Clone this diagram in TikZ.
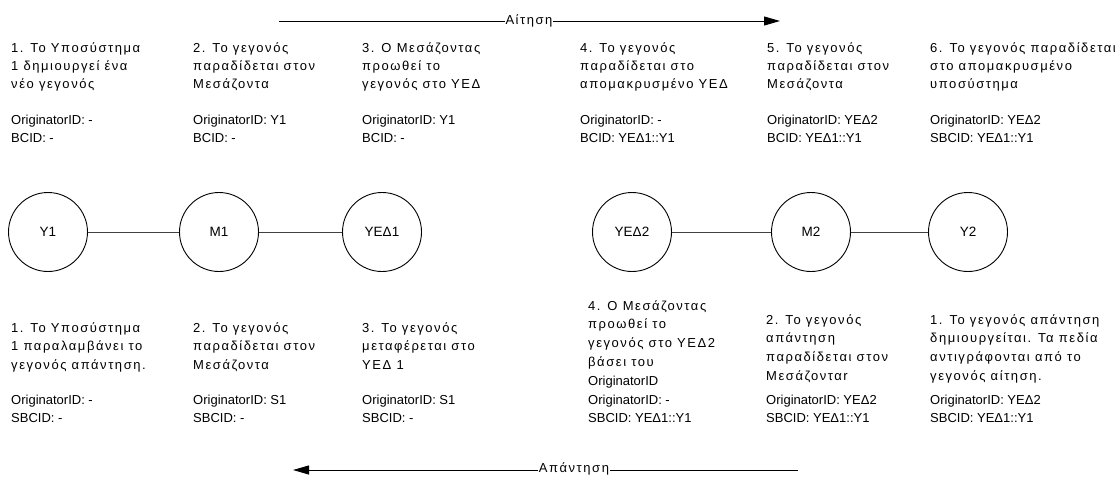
\documentclass[tikz,border=0pt]{standalone}
\usepackage{fontspec}
\setmainfont{Liberation Sans}
\newfontfamily\grfont{Liberation Sans}[LetterSpace=12]
\usetikzlibrary{arrows.meta}
\newcommand\txtrows[1]{\begin{tabular}[t]{@{}l@{}}#1\end{tabular}}
\tikzset{
  station/.style={draw=black, line width=0.9pt, circle, minimum size=79pt, inner sep=0pt,
                  font=\fontsize{13.5}{16}\selectfont},
  link/.style={draw=black!75, line width=0.9pt},
  desc/.style={anchor=base west, inner sep=0pt, font=\grfont\fontsize{13}{18.3}\selectfont},
  descb/.style={desc, font=\grfont\fontsize{13}{18.8}\selectfont},
  ids/.style={anchor=base west, inner sep=0pt, font=\fontsize{13}{18}\selectfont},
  flow/.style={draw=black, line width=1pt, -{Triangle[length=16pt,width=9pt]}},
  flowlabel/.style={fill=white, inner sep=1pt, font=\grfont\fontsize{13}{16}\selectfont}
}
\begin{document}
\begin{tikzpicture}[x=1pt, y=-1pt]
\useasboundingbox (0,0) rectangle (1120,477);

% request direction
\coordinate (reqA) at (279,21);
\coordinate (reqB) at (780,21);
\draw[flow] (reqA) -- (reqB);
\node[flowlabel] (req) at (529,21) {Αίτηση};

% reply direction
\coordinate (repA) at (798,470);
\coordinate (repB) at (293,470);
\draw[flow] (repA) -- (repB);
\node[flowlabel] (rep) at (574,469) {Απάντηση};

% participants
\node[station] (y1)   at (48,232)  {Y1};
\node[station] (m1)   at (219,232) {M1};
\node[station] (yed1) at (382,232) {ΥΕΔ1};
\node[station] (yed2) at (632,232) {ΥΕΔ2};
\node[station] (m2)   at (811,232) {M2};
\node[station] (y2)   at (968,232) {Y2};
\draw[link] (y1) -- (m1);
\draw[link] (m1) -- (yed1);
\draw[link] (yed2) -- (m2);
\draw[link] (m2) -- (y2);

% request steps
\node[desc] (t1) at (11,52)  {\txtrows{1. Το Υποσύστημα\\1 δημιουργεί ένα\\νέο γεγονός}};
\node[desc] (t2) at (193,52) {\txtrows{2. Το γεγονός\\παραδίδεται στον\\Μεσάζοντα}};
\node[desc] (t3) at (362,52) {\txtrows{3. Ο Μεσάζοντας\\προωθεί το\\γεγονός στο ΥΕΔ}};
\node[desc] (t4) at (580,52) {\txtrows{4. Το γεγονός\\παραδίδεται στο\\απομακρυσμένο ΥΕΔ}};
\node[desc] (t5) at (767,52) {\txtrows{5. Το γεγονός\\παραδίδεται στον\\Μεσάζοντα}};
\node[desc] (t6) at (930,52) {\txtrows{6. Το γεγονός παραδίδεται\\στο απομακρυσμένο\\υποσύστημα}};

\node[ids] (ti1) at (11,124)  {\txtrows{OriginatorID: -\\BCID: -}};
\node[ids] (ti2) at (193,124) {\txtrows{OriginatorID: Y1\\BCID: -}};
\node[ids] (ti3) at (362,124) {\txtrows{OriginatorID: Y1\\BCID: -}};
\node[ids] (ti4) at (580,124) {\txtrows{OriginatorID: -\\BCID: ΥΕΔ1::Y1}};
\node[ids] (ti5) at (767,124) {\txtrows{OriginatorID: ΥΕΔ2\\BCID: ΥΕΔ1::Y1}};
\node[ids] (ti6) at (930,124) {\txtrows{OriginatorID: ΥΕΔ2\\SBCID: ΥΕΔ1::Y1}};

% reply steps
\node[descb] (b1) at (11,332)  {\txtrows{1. Το Υποσύστημα\\1 παραλαμβάνει το\\γεγονός απάντηση.}};
\node[descb] (b2) at (193,332) {\txtrows{2. Το γεγονός\\παραδίδεται στον\\Μεσάζοντα}};
\node[descb] (b3) at (362,332) {\txtrows{3. Το γεγονός\\μεταφέρεται στο\\ΥΕΔ 1}};
\node[descb] (b4) at (588,310) {\txtrows{4. Ο Μεσάζοντας\\προωθεί το\\γεγονός στο ΥΕΔ2\\βάσει του\\{\rmfamily OriginatorID}}};
\node[descb] (b5) at (766,324) {\txtrows{2. Το γεγονός\\απάντηση\\παραδίδεται στον\\Μεσάζονταr}};
\node[descb] (b6) at (930,324) {\txtrows{1. Το γεγονός απάντηση\\δημιουργείται. Τα πεδία\\αντιγράφονται από το\\γεγονός αίτηση.}};

\node[ids] (bi1) at (11,404)  {\txtrows{OriginatorID: -\\SBCID: -}};
\node[ids] (bi2) at (193,404) {\txtrows{OriginatorID: S1\\SBCID: -}};
\node[ids] (bi3) at (362,404) {\txtrows{OriginatorID: S1\\SBCID: -}};
\node[ids] (bi4) at (588,404) {\txtrows{OriginatorID: -\\SBCID: ΥΕΔ1::Y1}};
\node[ids] (bi5) at (766,404) {\txtrows{OriginatorID: ΥΕΔ2\\SBCID: ΥΕΔ1::Y1}};
\node[ids] (bi6) at (930,404) {\txtrows{OriginatorID: ΥΕΔ2\\SBCID: ΥΕΔ1::Y1}};
\end{tikzpicture}
\end{document}
